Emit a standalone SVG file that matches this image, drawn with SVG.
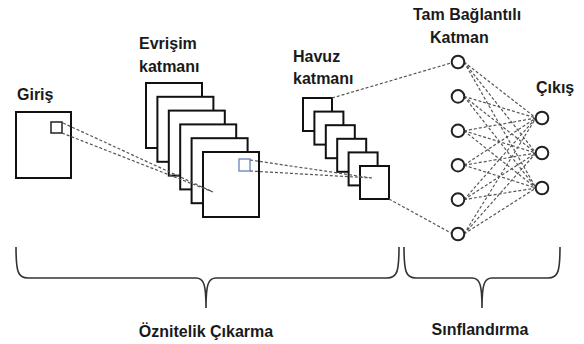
<svg xmlns="http://www.w3.org/2000/svg" width="584" height="344" viewBox="0 0 584 344">
<style>
.t{font-family:"Liberation Sans",Arial,sans-serif;font-weight:bold;font-size:16px;fill:#1a1a1a}
.fm{fill:#fff;stroke:#111;stroke-width:2}
.d{stroke:#555;stroke-width:1.2;stroke-dasharray:3 2;fill:none}
.n{fill:#fff;stroke:#222;stroke-width:2}
.b{fill:none;stroke:#333;stroke-width:1.6}
</style>
<rect width="584" height="344" fill="#fff"/>
<g id="input">
<rect class="fm" x="16" y="112" width="55" height="66"/>
<rect x="51" y="122" width="11" height="11" fill="none" stroke="#222" stroke-width="1.5"/>
<text class="t" x="17" y="100">Giriş</text>
</g>
<g id="conv">
<rect class="fm" x="146" y="83" width="56" height="65"/>
<rect class="fm" x="157.4" y="96.8" width="56" height="65"/>
<rect class="fm" x="168.8" y="110.6" width="56" height="65"/>
<rect class="fm" x="180.2" y="124.4" width="56" height="65"/>
<rect class="fm" x="191.6" y="138.2" width="56" height="65"/>
<rect class="fm" x="203" y="152" width="56" height="65"/>
<rect x="239" y="159" width="11" height="12" fill="none" stroke="#7a94c4" stroke-width="1.5"/>
<text class="t" x="139" y="49">Evrişim</text>
<text class="t" x="139" y="72">katmanı</text>
</g>
<g id="pool">
<rect class="fm" x="303" y="98" width="29" height="33"/>
<rect class="fm" x="314.4" y="111.6" width="29" height="33"/>
<rect class="fm" x="325.8" y="125.2" width="29" height="33"/>
<rect class="fm" x="337.2" y="138.8" width="29" height="33"/>
<rect class="fm" x="348.6" y="152.4" width="29" height="33"/>
<rect class="fm" x="360" y="166" width="29" height="33"/>
<text class="t" x="293" y="62">Havuz</text>
<text class="t" x="293" y="84">katmanı</text>
</g>
<g id="connectors">
<path class="d" d="M63,123 L213,192 M62,133 L213,192"/>
<path class="d" d="M250,160 L372,178 M250,171 L372,178"/>
<path class="d" d="M332,98 L451,63 M389,199 L451,233"/>
<path class="d" d="M464,62 L536,118 M464,62 L536,153 M464,62 L536,188
M464,96.4 L536,118 M464,96.4 L536,153 M464,96.4 L536,188
M464,130.8 L536,118 M464,130.8 L536,153 M464,130.8 L536,188
M464,165.2 L536,118 M464,165.2 L536,153 M464,165.2 L536,188
M464,199.6 L536,118 M464,199.6 L536,153 M464,199.6 L536,188
M464,234 L536,118 M464,234 L536,153 M464,234 L536,188"/>
</g>
<g id="fc">
<circle class="n" cx="458" cy="62" r="6.3"/>
<circle class="n" cx="458" cy="96.4" r="6.3"/>
<circle class="n" cx="458" cy="130.8" r="6.3"/>
<circle class="n" cx="458" cy="165.2" r="6.3"/>
<circle class="n" cx="458" cy="199.6" r="6.3"/>
<circle class="n" cx="458" cy="234" r="6.3"/>
<text class="t" x="413" y="20">Tam Bağlantılı</text>
<text class="t" x="430" y="43">Katman</text>
</g>
<g id="output">
<circle class="n" cx="542" cy="118" r="6.3"/>
<circle class="n" cx="542" cy="153" r="6.3"/>
<circle class="n" cx="542" cy="188" r="6.3"/>
<text class="t" x="536" y="93">Çıkış</text>
</g>
<g id="feature-brace">
<path class="b" d="M16,247 C16,272 18,278 28,278 L196,278 C204,278 206,285 206,308 C206,285 208,278 216,278 L387,278 C397,278 399,272 399,247"/>
<text class="t" x="206" y="337" text-anchor="middle">Öznitelik Çıkarma</text>
</g>
<g id="class-brace">
<path class="b" d="M404,247 C404,272 406,278 416,278 L472,278 C480,278 482,285 482,308 C482,285 484,278 492,278 L548,278 C558,278 560,272 560,247"/>
<text class="t" x="480" y="335" text-anchor="middle">Sınflandırma</text>
</g>
</svg>
